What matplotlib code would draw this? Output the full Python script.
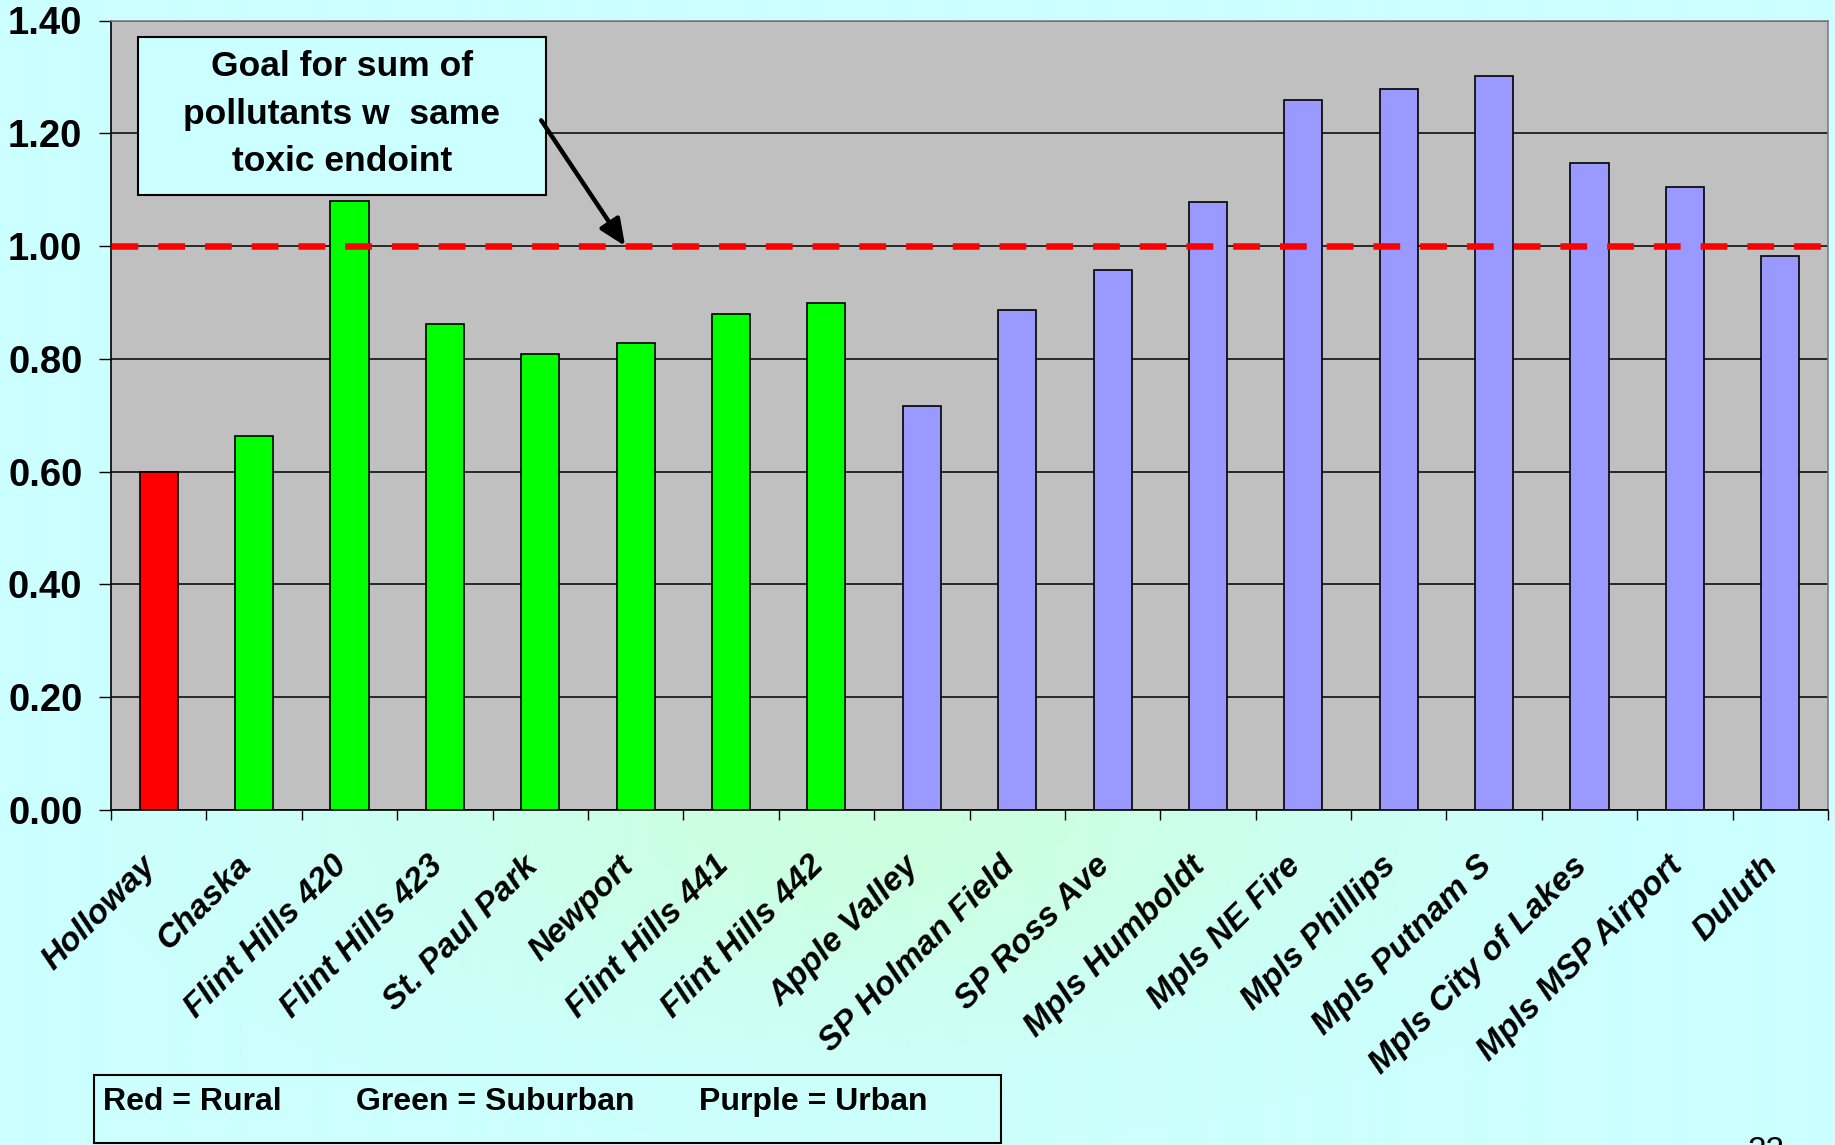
import numpy as np
import matplotlib
matplotlib.use("Agg")
import matplotlib.pyplot as plt
from matplotlib.patches import Rectangle

# monitoring sites and hazard index (sum of pollutants with the same toxic endpoint)
sites = ["Holloway", "Chaska", "Flint Hills 420", "Flint Hills 423", "St. Paul Park",
         "Newport", "Flint Hills 441", "Flint Hills 442", "Apple Valley",
         "SP Holman Field", "SP Ross Ave", "Mpls Humboldt", "Mpls NE Fire",
         "Mpls Phillips", "Mpls Putnam S", "Mpls City of Lakes", "Mpls MSP Airport",
         "Duluth"]
hazard_index = [0.60, 0.663, 1.080, 0.862, 0.808, 0.829, 0.879, 0.899, 0.717,
                0.887, 0.958, 1.078, 1.259, 1.278, 1.302, 1.148, 1.105, 0.982]
site_type = ["Rural"] + ["Suburban"] * 7 + ["Urban"] * 10
goal = 1.0
yticks = [0.0, 0.2, 0.4, 0.6, 0.8, 1.0, 1.2, 1.4]

type_colors = {"Rural": "#FF0000", "Suburban": "#00FF00", "Urban": "#9999FF"}

plt.rcParams["font.family"] = ["Liberation Sans", "DejaVu Sans"]

W, H = 1835, 1145
fig = plt.figure(figsize=(W / 100, H / 100), dpi=100)

# slide background: pale cyan with a soft green glow under the chart
yy, xx = np.mgrid[0:H, 0:W]
w = np.exp(-((xx - 880) / 480.0) ** 2 - ((yy - 810) / 200.0) ** 2)
w[(yy < 810) | (xx < 111) | (xx > 1600)] = 0
cyan = np.array([0.80, 1.0, 1.0])
mint = np.array([0.80, 1.0, 0.87])
img = cyan[None, None, :] * (1 - w[..., None]) + mint[None, None, :] * w[..., None]
bg = fig.add_axes([0, 0, 1, 1], zorder=-10)
bg.imshow(img, extent=[0, W, H, 0], aspect="auto", interpolation="bilinear")
bg.set_xlim(0, W)
bg.set_ylim(H, 0)
bg.axis("off")

ax = fig.add_axes([111 / W, (H - 810) / H, (1828 - 111) / W, (810 - 20.5) / H])
ax.set_facecolor("#C0C0C0")

x = np.arange(len(sites))
colors = [type_colors[t] for t in site_type]
ax.bar(x, hazard_index, width=0.40, color=colors, edgecolor="black",
       linewidth=1.2, zorder=3)

ax.plot([-0.5, len(sites) - 0.5], [goal, goal], color="#FF0000", lw=4.7,
        linestyle=(0, (4.1, 3.06)), solid_capstyle="butt",
        dash_capstyle="butt", zorder=4)

ax.set_xlim(-0.5, len(sites) - 0.5)
ax.set_ylim(0, 1.4)
ax.set_yticks(yticks)
ax.set_yticklabels([f"{v:.2f}" for v in yticks], fontsize=27.5, fontweight="bold")
ax.yaxis.grid(True, color="black", linewidth=1.1, zorder=1)
ax.set_axisbelow(True)
ax.tick_params(axis="y", length=8.6, width=1.0, pad=12)

# category boundaries carry the tick marks, labels sit at bar centres
ax.set_xticks(np.arange(-0.5, len(sites), 1.0))
ax.set_xticklabels([])
ax.set_xticks(x + 0.04, labels=sites, minor=True)
ax.tick_params(axis="x", which="major", length=7.2, width=1.0)
ax.tick_params(axis="x", which="minor", length=0, pad=29)
for lbl in ax.get_xticklabels(minor=True):
    lbl.set_rotation(45)
    lbl.set_ha("right")
    lbl.set_va("top")
    lbl.set_fontsize(24)
    lbl.set_fontweight("bold")
    lbl.set_fontstyle("italic")

for side in ("top", "right"):
    ax.spines[side].set_color("#808080")
    ax.spines[side].set_linewidth(1.2)
for side in ("left", "bottom"):
    ax.spines[side].set_color("black")
    ax.spines[side].set_linewidth(1.2)

# goal callout
ax.add_patch(Rectangle((-0.217, 1.090), 4.277, 0.280, facecolor="#CCFFFF",
                       edgecolor="black", linewidth=1.5, zorder=5))
ax.text(1.921, 1.234, "Goal for sum of\npollutants w  same\ntoxic endoint",
        ha="center", va="center", fontsize=25.5, fontweight="bold",
        linespacing=1.56, zorder=6)
ax.annotate("", xy=(4.89, goal), xytext=(4.01, 1.223),
            arrowprops=dict(arrowstyle="-|>,head_length=1.6,head_width=0.7",
                            color="black", lw=3.2, shrinkA=0, shrinkB=0),
            zorder=6)

# colour key box
fig.patches.append(Rectangle((94 / W, (H - 1143) / H), (1001 - 94) / W,
                             (1143 - 1075) / H, transform=fig.transFigure,
                             facecolor="none", edgecolor="black", linewidth=1.5))
key_y = (H - 1110) / H
fig.text(103 / W, key_y, "Red = Rural", fontsize=23, fontweight="bold", va="baseline")
fig.text(356 / W, key_y, "Green = Suburban", fontsize=23, fontweight="bold", va="baseline")
fig.text(699 / W, key_y, "Purple = Urban", fontsize=23, fontweight="bold", va="baseline")

fig.text(1747 / W, (H - 1160) / H, "22", fontsize=24, va="baseline")

fig.savefig("out.png", dpi=100)
